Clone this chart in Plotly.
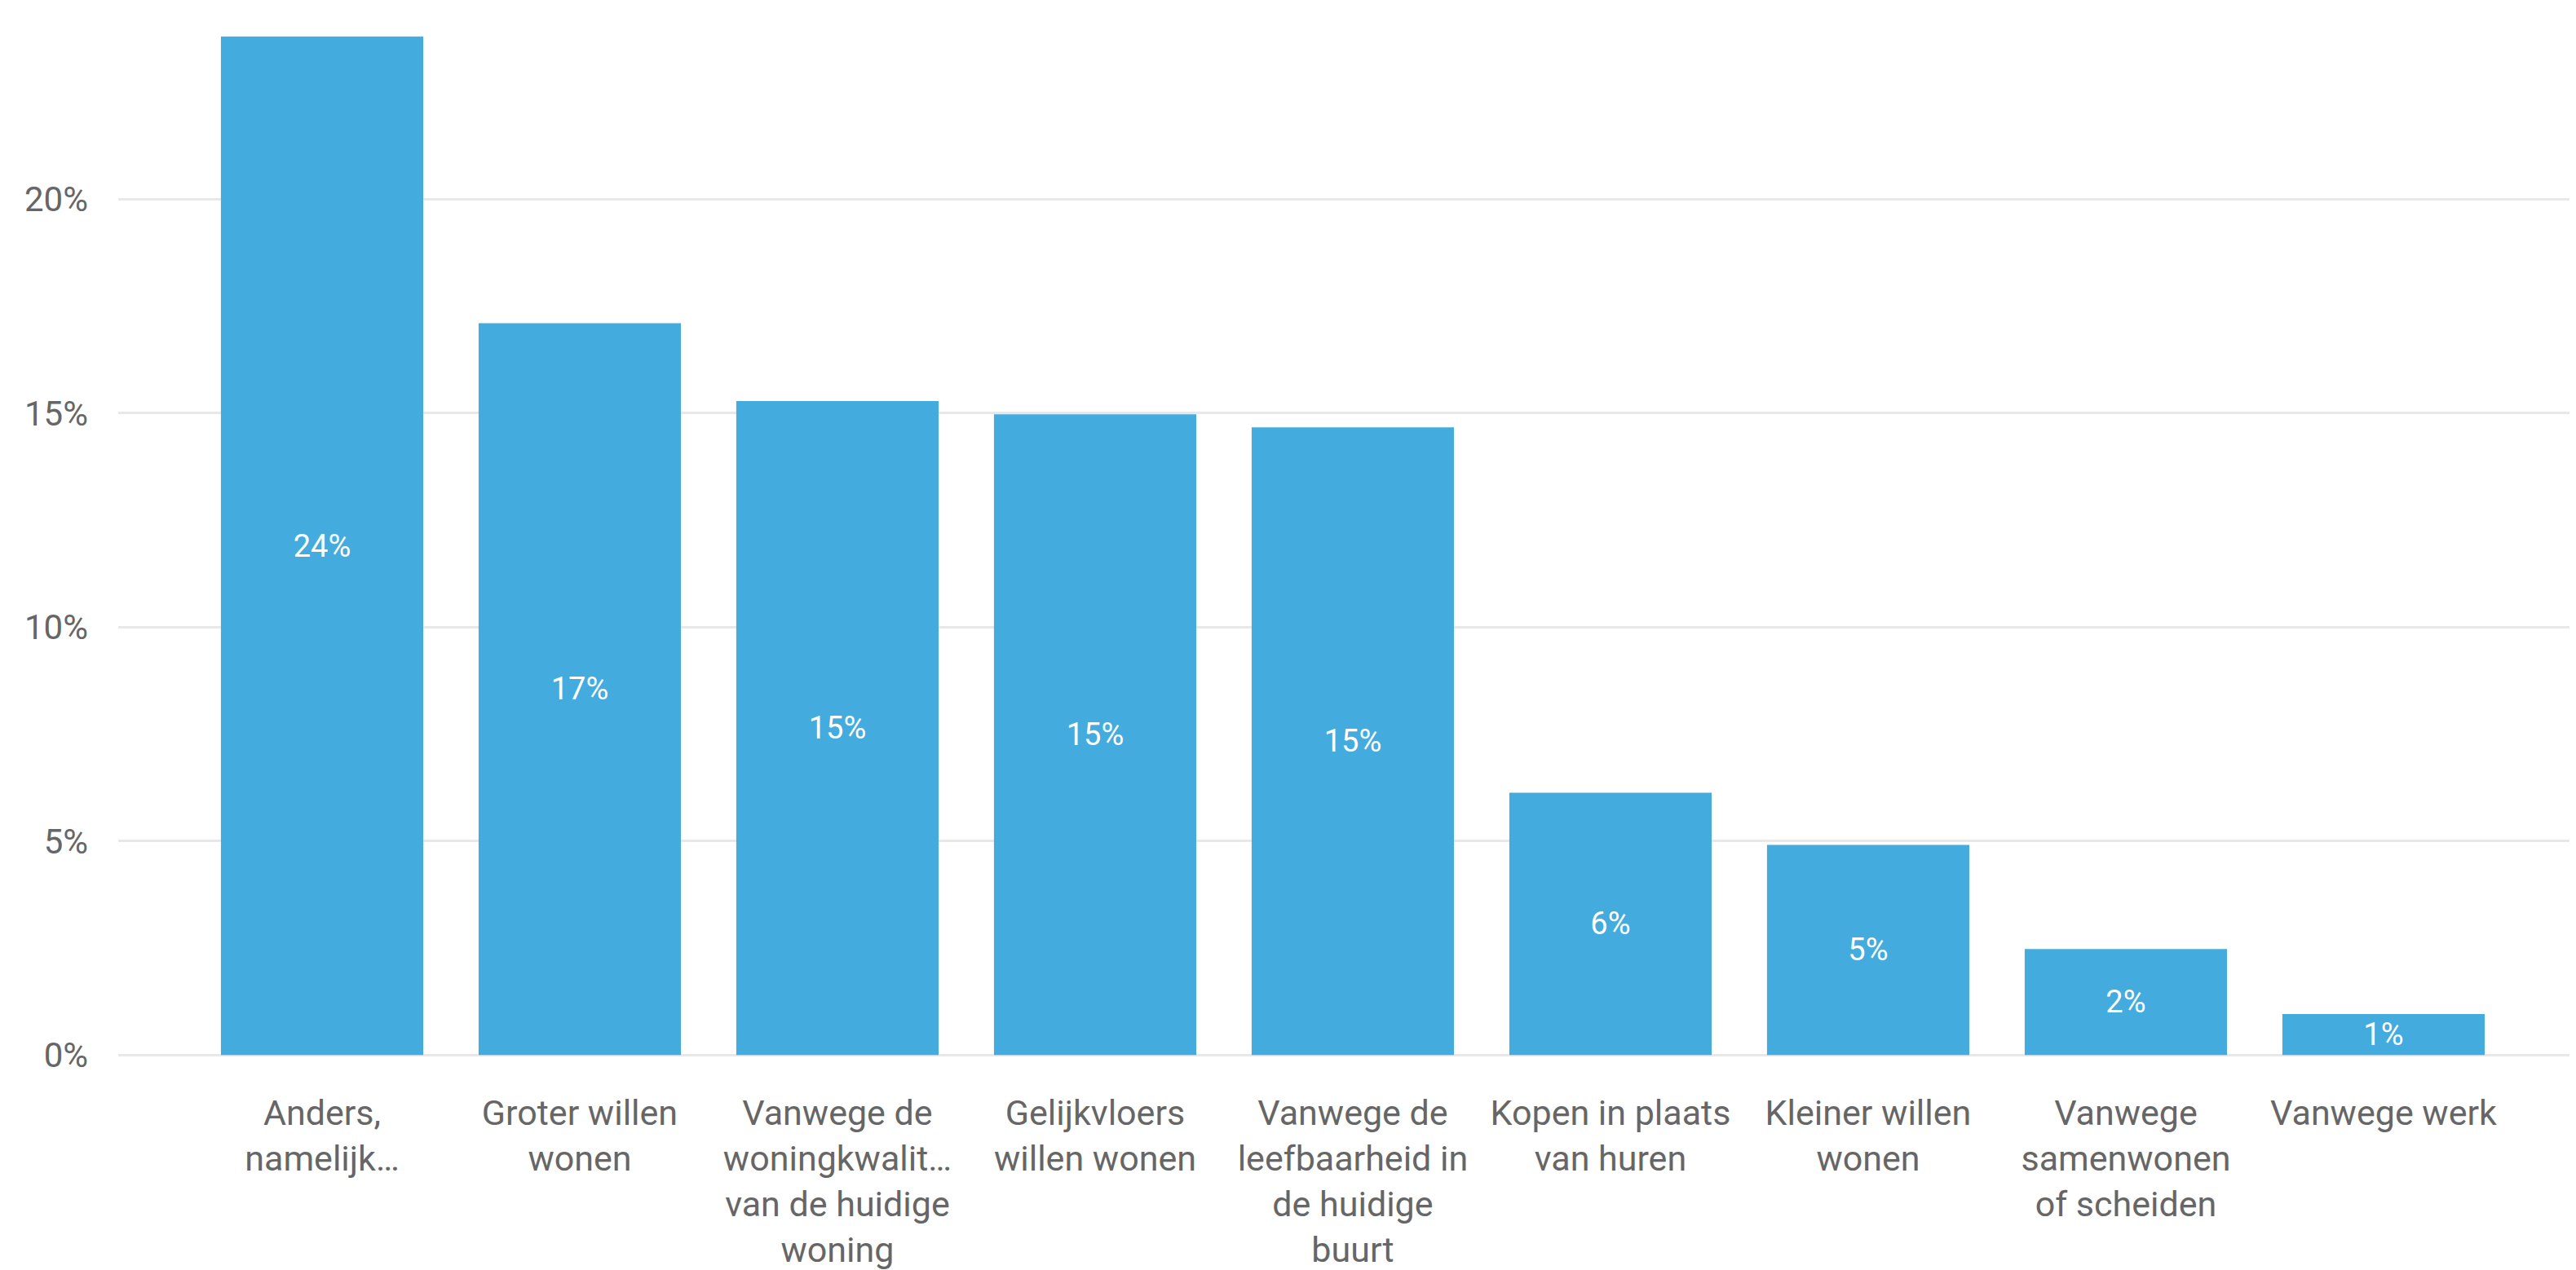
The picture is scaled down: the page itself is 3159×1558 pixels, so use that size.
import plotly.graph_objects as go

categories = [
    "Anders,<br>namelijk…",
    "Groter willen<br>wonen",
    "Vanwege de<br>woningkwalit…<br>van de huidige<br>woning",
    "Gelijkvloers<br>willen wonen",
    "Vanwege de<br>leefbaarheid in<br>de huidige<br>buurt",
    "Kopen in plaats<br>van huren",
    "Kleiner willen<br>wonen",
    "Vanwege<br>samenwonen<br>of scheiden",
    "Vanwege werk",
]
values = [23.8, 17.1, 15.28, 14.97, 14.67, 6.13, 4.91, 2.48, 0.96]
y_tickvals = [0, 5, 10, 15, 20]
y_ticktext = ["0%", "5%", "10%", "15%", "20%"]

# page body has an 8px default margin; size the figure so it fills the window
W, H = 3151, 1550
FONT = "Roboto"
GRAY = "#666666"
BAR = "#43abdd"
GRID = "#e8e8e8"

fig = go.Figure(
    go.Bar(
        x=list(range(len(categories))),
        y=values,
        marker=dict(color=BAR, line=dict(width=0)),
        texttemplate="%{y:.0f}%",
        textposition="inside",
        insidetextanchor="middle",
        textangle=0,
        constraintext="none",
        textfont=dict(family=FONT, size=38, color="white"),
        hoverinfo="skip",
    )
)

fig.update_layout(
    width=W,
    height=H,
    margin=dict(l=137, r=0, t=0, b=261, pad=0),
    paper_bgcolor="white",
    plot_bgcolor="white",
    bargap=0.215,
    showlegend=False,
    font=dict(family=FONT, color=GRAY),
)

fig.update_xaxes(
    type="linear",
    automargin=False,
    range=[-0.791, 8.747],
    tickvals=list(range(len(categories))),
    ticktext=categories,
    tickangle=0,
    tickfont=dict(family=FONT, size=43, color=GRAY),
    showgrid=False,
    zeroline=False,
    showline=False,
    ticks="",
    ticklabelstandoff=39,
)

fig.update_yaxes(
    automargin=False,
    range=[-0.05, 24.5],
    tickvals=y_tickvals,
    ticktext=y_ticktext,
    tickfont=dict(family=FONT, size=42, color=GRAY),
    showgrid=True,
    gridcolor=GRID,
    gridwidth=3,
    zeroline=True,
    zerolinecolor=GRID,
    zerolinewidth=3,
    showline=False,
    ticks="",
    ticklabelstandoff=36,
)

fig.write_html("out.html")
